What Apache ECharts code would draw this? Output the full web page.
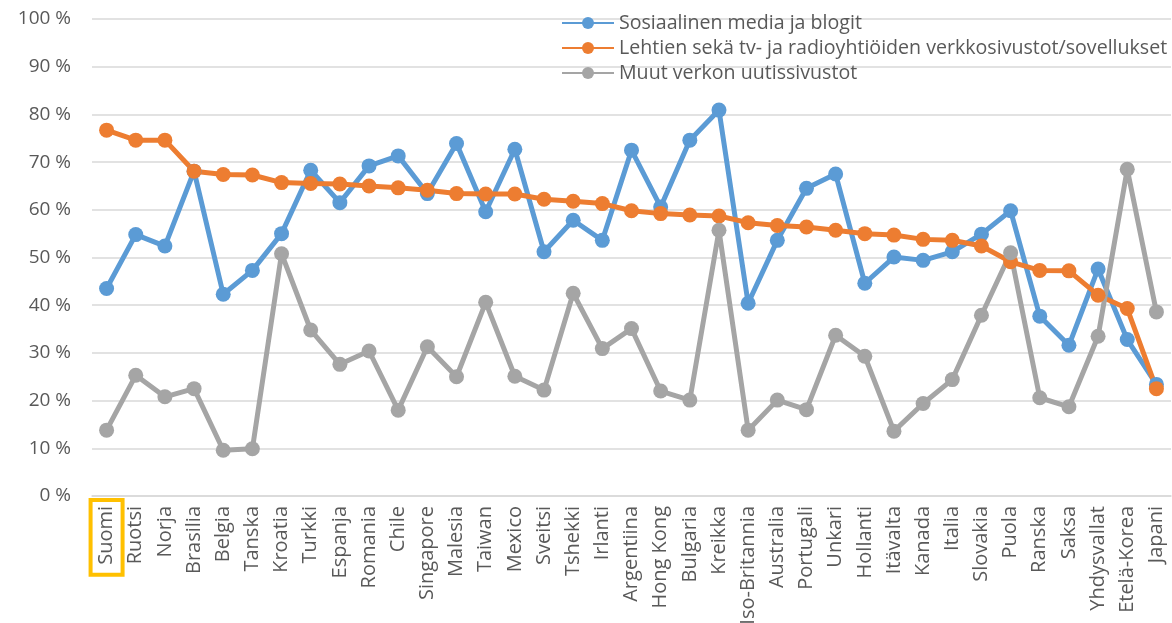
<!DOCTYPE html>
<html>
<head>
<meta charset="utf-8">
<script src="https://cdn.jsdelivr.net/npm/echarts@6/dist/echarts.min.js"></script>
<style>
  html, body { margin: 0; padding: 0; background: #ffffff; }
  #chart { width: 1172px; height: 623px; }
</style>
</head>
<body>
<div id="chart"></div>
<script>
// Countries in display order
const categories = ['Suomi', 'Ruotsi', 'Norja', 'Brasilia', 'Belgia', 'Tanska', 'Kroatia', 'Turkki',
  'Espanja', 'Romania', 'Chile', 'Singapore', 'Malesia', 'Taiwan', 'Mexico', 'Sveitsi', 'Tshekki',
  'Irlanti', 'Argentiina', 'Hong Kong', 'Bulgaria', 'Kreikka', 'Iso-Britannia', 'Australia',
  'Portugali', 'Unkari', 'Hollanti', 'Itävalta', 'Kanada', 'Italia', 'Slovakia', 'Puola', 'Ranska',
  'Saksa', 'Yhdysvallat', 'Etelä-Korea', 'Japani'];

// Series names
const seriesNames = [
  'Sosiaalinen media ja blogit',
  'Lehtien sekä tv- ja radioyhtiöiden verkkosivustot/sovellukset',
  'Muut verkon uutissivustot'
];

// Shares (%) per country
const socialMedia = [43.5, 54.8, 52.4, 68.1, 42.3, 47.3, 55.0, 68.3, 61.5, 69.2, 71.3, 63.4, 73.9,
  59.6, 72.7, 51.2, 57.8, 53.6, 72.5, 60.6, 74.6, 80.9, 40.4, 53.6, 64.5, 67.5, 44.6, 50.1, 49.4,
  51.2, 54.9, 59.8, 37.7, 31.6, 47.6, 32.8, 23.4];

const mediaSites = [76.7, 74.6, 74.6, 68.1, 67.4, 67.3, 65.7, 65.5, 65.4, 65.0, 64.6, 64.1, 63.4,
  63.3, 63.3, 62.2, 61.8, 61.3, 59.8, 59.2, 58.9, 58.7, 57.3, 56.7, 56.4, 55.7, 55.0, 54.7, 53.8,
  53.6, 52.4, 49.1, 47.3, 47.2, 42.1, 39.3, 22.5];

const otherNews = [13.8, 25.3, 20.8, 22.5, 9.6, 9.9, 50.8, 34.8, 27.6, 30.4, 18.0, 31.3, 25.0,
  40.6, 25.1, 22.2, 42.5, 30.9, 35.1, 22.0, 20.1, 55.7, 13.8, 20.1, 18.1, 33.7, 29.3, 13.6, 19.4,
  24.4, 37.9, 51.0, 20.6, 18.7, 33.5, 68.5, 38.6];

// Value axis range
const yMin = 0, yMax = 100, yStep = 10;

// Country whose label gets a highlight frame
const highlighted = 'Suomi';

const colors = ['#5B9BD5', '#ED7D31', '#A5A5A5'];
const FONT = '"Open Sans", sans-serif';
const TEXT = '#595959';

const chart = echarts.init(document.getElementById('chart'), null, { renderer: 'canvas' });

function lineSeries(name, data, color) {
  return {
    name: name,
    type: 'line',
    data: data,
    symbol: 'circle',
    symbolSize: 15,
    lineStyle: { color: color, width: 5 },
    itemStyle: { color: color },
    emphasis: { disabled: true },
    animation: false
  };
}

const labelBox = { fontFamily: FONT, fontSize: 20, color: TEXT, lineHeight: 20, padding: [6, 6, 6, 10] };

chart.setOption({
  animation: false,
  textStyle: { fontFamily: FONT },
  grid: { left: 92, right: 1, top: 19, bottom: 127, outerBoundsMode: 'none', containLabel: false },
  legend: {
    orient: 'vertical',
    left: 561,
    top: 13,
    padding: 0,
    itemWidth: 52,
    itemHeight: 15,
    itemGap: 5,
    textStyle: { fontFamily: FONT, fontSize: 19.6, color: TEXT },
    data: seriesNames
  },
  xAxis: {
    type: 'category',
    data: categories,
    boundaryGap: true,
    axisLine: { lineStyle: { color: '#D9D9D9', width: 1.5 } },
    axisTick: { show: false },
    axisLabel: {
      interval: 0,
      rotate: 90,
      margin: 4,
      formatter: function (v) {
        return v === highlighted ? '{hl|' + v + '}' : '{n|' + v + '}';
      },
      rich: {
        n: Object.assign({}, labelBox, { borderColor: 'transparent', borderWidth: 4 }),
        hl: Object.assign({}, labelBox, { borderColor: '#FFC000', borderWidth: 4 })
      }
    }
  },
  yAxis: {
    type: 'value',
    min: yMin,
    max: yMax,
    interval: yStep,
    axisLine: { show: false },
    axisTick: { show: false },
    axisLabel: {
      formatter: '{value} %',
      margin: 21,
      fontFamily: FONT,
      fontSize: 19,
      color: TEXT
    },
    splitLine: { lineStyle: { color: '#D9D9D9', width: 1.5 } }
  },
  series: [
    lineSeries(seriesNames[0], socialMedia, colors[0]),
    lineSeries(seriesNames[1], mediaSites, colors[1]),
    lineSeries(seriesNames[2], otherNews, colors[2])
  ]
});
</script>
</body>
</html>
